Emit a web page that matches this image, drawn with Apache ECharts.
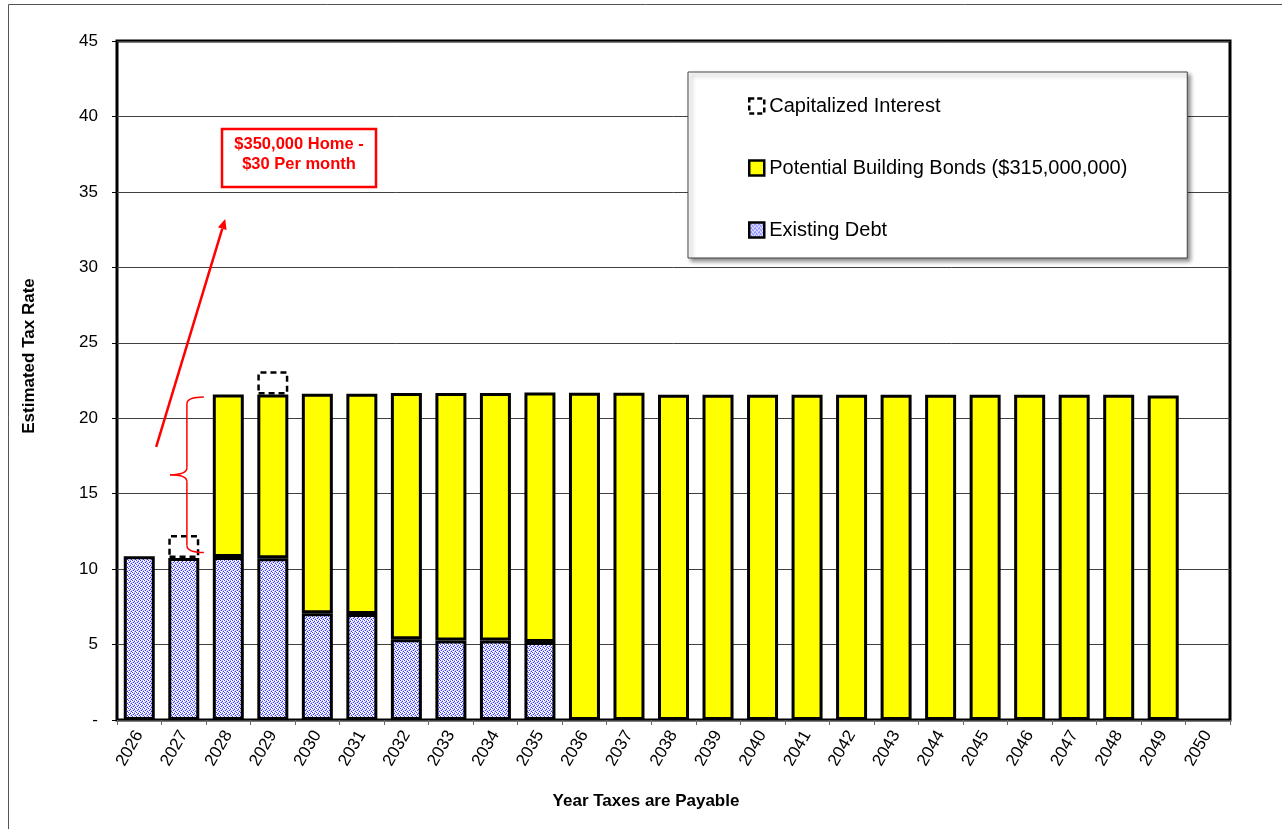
<!DOCTYPE html>
<html>
<head>
<meta charset="utf-8">
<script src="https://cdn.jsdelivr.net/npm/echarts@6/dist/echarts.min.js"></script>
<style>
html,body{margin:0;padding:0;background:#fff;}
#chart{width:1282px;height:829px;}
</style>
</head>
<body>
<div id="chart"></div>
<script>
// ---- data ----
const years = ['2026','2027','2028','2029','2030','2031','2032','2033','2034','2035','2036','2037','2038','2039','2040','2041','2042','2043','2044','2045','2046','2047','2048','2049','2050'];
const existingDebt = [10.85,10.74,10.80,10.72,7.07,7.02,5.35,5.27,5.27,5.17,null,null,null,null,null,null,null,null,null,null,null,null,null,null,null];
const buildingBonds = [null,null,10.78,10.85,14.56,14.61,16.32,16.40,16.40,16.54,21.69,21.68,21.56,21.56,21.56,21.56,21.56,21.56,21.56,21.56,21.56,21.56,21.56,21.50,null];
const capInterest = [null,1.52,null,1.55,null,null,null,null,null,null,null,null,null,null,null,null,null,null,null,null,null,null,null,null,null];
const seriesNames = ['Existing Debt','Potential Building Bonds ($315,000,000)','Capitalized Interest'];
const legendOrder = ['Capitalized Interest','Potential Building Bonds ($315,000,000)','Existing Debt'];
const yTicks = {min:0,max:45,interval:5};
// annotation anchors in data space [category index (fractional), value]
const arrowFrom = [0.38, 18.1];
const arrowTo = [1.93, 33.2];
const braceTop = 21.4, braceMid = 16.25, braceBottom = 11.1;
const braceX = 1.07, braceTipX = 0.69, braceEndX = 1.45;

const FONT = '"Liberation Sans", Arial, sans-serif';

// dotted blue pattern for Existing Debt
const pc = document.createElement('canvas');
pc.width = 4; pc.height = 4;
const g = pc.getContext('2d');
const B = '#3535ff', L = '#c4c4ff', W = '#ffffff';
const pat = [
  [B,W,L,W],
  [W,L,B,W],
  [L,B,W,L],
  [W,W,L,B]
];
for (let r=0;r<4;r++) for (let c=0;c<4;c++){ g.fillStyle = pat[r][c]; g.fillRect(c,r,1,1); }
const debtFill = {image: pc, repeat: 'repeat'};

const chart = echarts.init(document.getElementById('chart'));
const barStyleBase = {borderColor:'#000', borderWidth:3};

chart.setOption({
  animation:false,
  backgroundColor:'#fff',
  grid:{left:117,right:52,top:41,bottom:109,show:true,borderColor:'#000',borderWidth:3,backgroundColor:'transparent'},
  legend:{
    data:[
      {name:legendOrder[0], itemStyle:{color:'#fff',borderColor:'#000',borderWidth:2.5,borderType:[5,3]}},
      {name:legendOrder[1], itemStyle:{color:'#ffff00',borderColor:'#000',borderWidth:2.5}},
      {name:legendOrder[2], itemStyle:{color:debtFill,borderColor:'#000',borderWidth:2.5}}
    ],
    orient:'vertical', left:688, top:72,
    padding:[23,60,17,60],
    itemWidth:15, itemHeight:15, itemGap:40,
    icon:'rect',
    backgroundColor:'#fff', borderColor:'#444', borderWidth:1,
    shadowColor:'rgba(0,0,0,0.45)', shadowBlur:4, shadowOffsetX:3, shadowOffsetY:3,
    textStyle:{fontFamily:FONT,fontSize:20,color:'#000',lineHeight:22},
    selectedMode:false
  },
  xAxis:{
    type:'category', data:years,
    axisLine:{show:false},
    axisTick:{show:true,length:5,lineStyle:{color:'#666',width:1}},
    axisLabel:{rotate:60,margin:12,fontFamily:FONT,fontSize:17,color:'#000',interval:0},
    splitLine:{show:false}
  },
  yAxis:{
    type:'value', min:yTicks.min, max:yTicks.max, interval:yTicks.interval,
    axisLine:{show:false},
    axisTick:{show:true,length:5,lineStyle:{color:'#000',width:1}},
    axisLabel:{margin:19,fontFamily:FONT,fontSize:17,color:'#000',formatter:v=>v===0?'-':String(v)},
    splitLine:{show:true,lineStyle:{color:'#404040',width:1}}
  },
  series:[
    {name:seriesNames[0],type:'bar',stack:'t',data:existingDebt,barWidth:31,
     itemStyle:Object.assign({color:debtFill},barStyleBase)},
    {name:seriesNames[1],type:'bar',stack:'t',data:buildingBonds,barWidth:31,
     itemStyle:Object.assign({color:'#ffff00'},barStyleBase)},
    {name:seriesNames[2],type:'bar',stack:'t',data:capInterest,barWidth:31,
     itemStyle:{color:'rgba(0,0,0,0)',borderColor:'#000',borderWidth:2.5,borderType:[6,4]}}
  ]
});

// helper: fractional category index + value -> pixel
function px(idx, val){
  const a = chart.convertToPixel({gridIndex:0},[0,val]);
  const b = chart.convertToPixel({gridIndex:0},[1,val]);
  return [a[0] + (b[0]-a[0])*idx, a[1]];
}
const p0 = px(arrowFrom[0],arrowFrom[1]);
const p1 = px(arrowTo[0],arrowTo[1]);
const bt = px(braceEndX,braceTop), bb = px(braceEndX,braceBottom);
const bx = px(braceX,braceMid)[0];
const tip = px(braceTipX,braceMid);
const R = 7;
const braceStyle = {stroke:'#ff0000',lineWidth:1.5,fill:'none'};
function qc(x1,y1,cx,cy,x2,y2){
  return {type:'bezierCurve',silent:true,z:100,shape:{x1:x1,y1:y1,cpx1:cx,cpy1:cy,x2:x2,y2:y2},style:braceStyle};
}
function ln(x1,y1,x2,y2,w){
  return {type:'line',silent:true,z:100,shape:{x1:x1,y1:y1,x2:x2,y2:y2},style:{stroke:'#ff0000',lineWidth:w||1.5}};
}
const ang = Math.atan2(p1[1]-p0[1], p1[0]-p0[0]);
const ah = 10, aw = 4.5;
const hx = p1[0], hy = p1[1];
const baseX = hx - ah*Math.cos(ang), baseY = hy - ah*Math.sin(ang);
const head = [[hx,hy],[baseX + aw*Math.sin(ang), baseY - aw*Math.cos(ang)],[baseX - aw*Math.sin(ang), baseY + aw*Math.cos(ang)]];

chart.setOption({
  graphic:[
    {type:'rect',silent:true,shape:{x:8.5,y:4.5,width:1300,height:900},style:{fill:'none',stroke:'#555',lineWidth:1},z:-10},
    {type:'text',silent:true,x:646,y:801,style:{text:'Year Taxes are Payable',font:'bold 17px '+FONT,fill:'#000',align:'center',verticalAlign:'middle'}},
    {type:'text',silent:true,x:29,y:356,rotation:Math.PI/2,style:{text:'Estimated Tax Rate',font:'bold 17px '+FONT,fill:'#000',align:'center',verticalAlign:'middle'}},
    {type:'rect',silent:true,shape:{x:222,y:129,width:154,height:58},style:{fill:'#fff',stroke:'#ff0000',lineWidth:2.5},z:100},
    {type:'text',silent:true,x:299,y:154,style:{text:'$350,000 Home -\n$30 Per month',font:'bold 16.5px '+FONT,fill:'#ff0000',align:'center',verticalAlign:'middle',lineHeight:20},z:101},
    ln(p0[0],p0[1],baseX,baseY,2.5),
    {type:'polygon',silent:true,shape:{points:head},style:{fill:'#ff0000'},z:100},
    qc(bt[0],bt[1],bx,bt[1],bx,bt[1]+R),
    ln(bx,bt[1]+R,bx,tip[1]-R),
    qc(bx,tip[1]-R,bx,tip[1],tip[0],tip[1]),
    qc(tip[0],tip[1],bx,tip[1],bx,tip[1]+R),
    ln(bx,tip[1]+R,bx,bb[1]-R),
    qc(bx,bb[1]-R,bx,bb[1],bb[0],bb[1])
  ]
});
</script>
</body>
</html>
